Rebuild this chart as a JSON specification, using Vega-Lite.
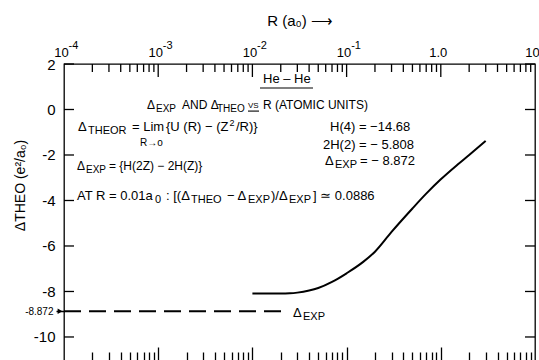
{
  "$schema": "https://vega.github.io/schema/vega-lite/v6.json",
  "width": 471,
  "height": 298,
  "autosize": "none",
  "padding": {"left": 64, "top": 64, "right": 4, "bottom": 0},
  "background": "white",
  "config": {
    "view": {"stroke": "black", "strokeWidth": 1.3},
    "axis": {
      "domain": false,
      "grid": false,
      "labelColor": "black",
      "titleColor": "black",
      "labelFont": "Liberation Sans",
      "titleFont": "Liberation Sans",
      "titleFontWeight": "normal",
      "labelFlush": false
    },
    "text": {"font": "Liberation Sans", "color": "black"}
  },
  "datasets": {
    "theo": [
      {"R": 0.01, "v": -8.09},
      {"R": 0.015, "v": -8.09},
      {"R": 0.02, "v": -8.09},
      {"R": 0.025, "v": -8.08},
      {"R": 0.03, "v": -8.05},
      {"R": 0.04, "v": -7.96},
      {"R": 0.05, "v": -7.85},
      {"R": 0.07, "v": -7.58},
      {"R": 0.1, "v": -7.2},
      {"R": 0.15, "v": -6.7},
      {"R": 0.2, "v": -6.25},
      {"R": 0.3, "v": -5.38},
      {"R": 0.5, "v": -4.35},
      {"R": 0.7, "v": -3.7},
      {"R": 1.0, "v": -3.07},
      {"R": 1.5, "v": -2.43},
      {"R": 2.0, "v": -2.0},
      {"R": 3.0, "v": -1.38}
    ],
    "exp": [
      {"R": 0.0001, "v": -8.872},
      {"R": 0.0239, "v": -8.872}
    ],
    "xticks": [
      {"R": 0.001, "g": "major"}, {"R": 0.01, "g": "major"}, {"R": 0.1, "g": "major"}, {"R": 1, "g": "major"},
      {"R": 0.0002, "g": "minor"}, {"R": 0.0003, "g": "minor"}, {"R": 0.0004, "g": "minor"}, {"R": 0.0005, "g": "minor"},
      {"R": 0.0006, "g": "minor"}, {"R": 0.0007, "g": "minor"}, {"R": 0.0008, "g": "minor"}, {"R": 0.0009, "g": "minor"},
      {"R": 0.002, "g": "minor"}, {"R": 0.003, "g": "minor"}, {"R": 0.004, "g": "minor"}, {"R": 0.005, "g": "minor"},
      {"R": 0.006, "g": "minor"}, {"R": 0.007, "g": "minor"}, {"R": 0.008, "g": "minor"}, {"R": 0.009, "g": "minor"},
      {"R": 0.02, "g": "minor"}, {"R": 0.03, "g": "minor"}, {"R": 0.04, "g": "minor"}, {"R": 0.05, "g": "minor"},
      {"R": 0.06, "g": "minor"}, {"R": 0.07, "g": "minor"}, {"R": 0.08, "g": "minor"}, {"R": 0.09, "g": "minor"},
      {"R": 0.2, "g": "minor"}, {"R": 0.3, "g": "minor"}, {"R": 0.4, "g": "minor"}, {"R": 0.5, "g": "minor"},
      {"R": 0.6, "g": "minor"}, {"R": 0.7, "g": "minor"}, {"R": 0.8, "g": "minor"}, {"R": 0.9, "g": "minor"},
      {"R": 2, "g": "minor"}, {"R": 3, "g": "minor"}, {"R": 4, "g": "minor"}, {"R": 5, "g": "minor"},
      {"R": 6, "g": "minor"}, {"R": 7, "g": "minor"}, {"R": 8, "g": "minor"}, {"R": 9, "g": "minor"}
    ],
    "yticks": [
      {"v": 2}, {"v": 0}, {"v": -2}, {"v": -4}, {"v": -6}, {"v": -8}, {"v": -10}
    ],
    "notes": [
      {"t": "He – He", "R": 0.01296, "v": 1.17, "k": "m"},
      {"t": "Δ", "R": 0.00076, "v": 0.0, "k": "a"},
      {"t": "EXP", "R": 0.0009475, "v": 0.0, "k": "b"},
      {"t": "AND Δ", "R": 0.001789, "v": 0.0, "k": "a"},
      {"t": "THEO", "R": 0.004208, "v": 0.0, "k": "b"},
      {"t": "VS", "R": 0.00898, "v": 0.0, "k": "v"},
      {"t": "R (ATOMIC UNITS)", "R": 0.01296, "v": 0.0, "k": "a"},
      {"t": "Δ", "R": 0.0001408, "v": -0.95, "k": "m"},
      {"t": "THEOR", "R": 0.0001798, "v": -0.95, "k": "s"},
      {"t": "= Lim", "R": 0.000527, "v": -0.95, "k": "m"},
      {"t": "{U (R) − (Z", "R": 0.00121, "v": -0.95, "k": "m"},
      {"t": "2", "R": 0.005713, "v": -0.95, "k": "p"},
      {"t": "/R)}", "R": 0.006695, "v": -0.95, "k": "m"},
      {"t": "R→o", "R": 0.000641, "v": -1.47, "k": "b"},
      {"t": "H(4) = −14.68", "R": 0.06666, "v": -0.95, "k": "m"},
      {"t": "2H(2) = − 5.808", "R": 0.05617, "v": -1.74, "k": "m"},
      {"t": "Δ", "R": 0.05897, "v": -2.44, "k": "m"},
      {"t": "EXP", "R": 0.0753, "v": -2.44, "k": "s"},
      {"t": "= − 8.872", "R": 0.1388, "v": -2.44, "k": "m"},
      {"t": "Δ", "R": 0.0001374, "v": -2.65, "k": "a"},
      {"t": "EXP", "R": 0.0001712, "v": -2.65, "k": "b"},
      {"t": "= {H(2Z) − 2H(Z)}", "R": 0.0003004, "v": -2.65, "k": "a"},
      {"t": "AT R = 0.01a", "R": 0.0001374, "v": -3.98, "k": "m"},
      {"t": "0", "R": 0.0009245, "v": -3.98, "k": "s"},
      {"t": ": [(Δ", "R": 0.00121, "v": -3.98, "k": "m"},
      {"t": "THEO", "R": 0.00223, "v": -3.98, "k": "s"},
      {"t": "− Δ", "R": 0.005375, "v": -3.98, "k": "m"},
      {"t": "EXP", "R": 0.00898, "v": -3.98, "k": "s"},
      {"t": ")/Δ", "R": 0.01576, "v": -3.98, "k": "m"},
      {"t": "EXP", "R": 0.02446, "v": -3.98, "k": "s"},
      {"t": "] ≃ 0.0886", "R": 0.04398, "v": -3.98, "k": "m"},
      {"t": "Δ", "R": 0.02698, "v": -9.12, "k": "m"},
      {"t": "EXP", "R": 0.03444, "v": -9.12, "k": "s"}
    ],
    "underlines": [
      {"R1": 0.01204, "R2": 0.04398, "v": 0.945},
      {"R1": 0.00898, "R2": 0.01175, "v": -0.07}
    ]
  },
  "layer": [
    {
      "data": {"name": "underlines"},
      "mark": {"type": "rule", "color": "black", "strokeWidth": 1.1},
      "encoding": {
        "x": {
          "field": "R1", "type": "quantitative",
          "scale": {"type": "log", "domain": [0.0001, 10], "nice": false},
          "axis": {
            "orient": "bottom",
            "offset": -15,
            "values": [0.001, 0.01, 0.1, 1],
            "ticks": true,
            "tickSize": 15,
            "tickColor": "black",
            "tickWidth": 1.3,
            "labels": false,
            "title": null
          }
        },
        "x2": {"field": "R2"},
        "y": {
          "field": "v", "type": "quantitative",
          "scale": {"domain": [-11.1, 2], "nice": false, "zero": false},
          "axis": null
        }
      }
    },
    {
      "data": {"name": "theo"},
      "mark": {"type": "line", "color": "black", "strokeWidth": 2, "interpolate": "monotone"},
      "encoding": {
        "x": {
          "field": "R", "type": "quantitative",
          "scale": {"type": "log", "domain": [0.0001, 10], "nice": false},
          "axis": {
            "orient": "top",
            "values": [0.0001, 0.001, 0.01, 0.1, 1, 10],
            "ticks": false,
            "labelFontSize": 13,
            "labelBaseline": "alphabetic",
            "labelPadding": 8,
            "labelOffset": -3,
            "labelExpr": "datum.value < 0.5 ? '10' : datum.value < 5 ? '1.0' : '10'",
            "title": "R (a₀) ⟶",
            "titleFontSize": 15,
            "titleY": -44,
            "titleBaseline": "middle"
          }
        },
        "y": {
          "field": "v", "type": "quantitative",
          "scale": {"domain": [-11.1, 2], "nice": false, "zero": false},
          "axis": {
            "orient": "left",
            "values": [2, 0, -2, -4, -6, -8, -10],
            "ticks": false,
            "labelFontSize": 15,
            "labelPadding": 9,
            "labelExpr": "datum.value < 0 ? '-' + abs(datum.value) : '' + datum.value",
            "title": "ΔTHEO (e²/a₀)",
            "titleFontSize": 14,
            "titleAngle": -90,
            "titleX": -44,
            "titleY": 121,
            "titleAlign": "center",
            "titleBaseline": "middle"
          }
        }
      }
    },
    {
      "data": {"name": "notes"},
      "transform": [{"filter": "datum.k == 'm' || datum.k == 'a'"}],
      "mark": {"type": "text", "align": "left", "baseline": "alphabetic"},
      "encoding": {
        "x": {
          "field": "R", "type": "quantitative",
          "scale": {"type": "log", "domain": [0.0001, 10], "nice": false},
          "axis": {
            "orient": "bottom",
            "offset": -10,
            "values": [0.0002, 0.0003, 0.0004, 0.0005, 0.0006, 0.0007, 0.0008, 0.0009,
                       0.002, 0.003, 0.004, 0.005, 0.006, 0.007, 0.008, 0.009,
                       0.02, 0.03, 0.04, 0.05, 0.06, 0.07, 0.08, 0.09,
                       0.2, 0.3, 0.4, 0.5, 0.6, 0.7, 0.8, 0.9,
                       2, 3, 4, 5, 6, 7, 8, 9],
            "ticks": true,
            "tickSize": 10,
            "tickColor": "black",
            "tickWidth": 1.3,
            "labels": false,
            "title": null
          }
        },
        "y": {
          "field": "v", "type": "quantitative",
          "scale": {"domain": [-11.1, 2], "nice": false, "zero": false},
          "axis": {
            "orient": "left",
            "values": [-8.872],
            "ticks": true,
            "tickSize": 8,
            "tickColor": "black",
            "tickWidth": 1.5,
            "labelFontSize": 10,
            "labelPadding": 3,
            "labelExpr": "'-8.872'",
            "title": null
          }
        },
        "size": {"field": "k", "type": "ordinal", "scale": {"domain": ["m", "a"], "range": [13, 12]}, "legend": null},
        "text": {"field": "t"}
      }
    },
    {
      "data": {"name": "notes"},
      "transform": [{"filter": "datum.k == 's' || datum.k == 'b'"}],
      "mark": {"type": "text", "align": "left", "baseline": "alphabetic", "dy": 3},
      "encoding": {
        "x": {
          "field": "R", "type": "quantitative",
          "scale": {"type": "log", "domain": [0.0001, 10], "nice": false},
          "axis": null
        },
        "y": {
          "field": "v", "type": "quantitative",
          "scale": {"domain": [-11.1, 2], "nice": false, "zero": false},
          "axis": null
        },
        "size": {"field": "k", "type": "ordinal", "scale": {"domain": ["s", "b"], "range": [11, 10]}, "legend": null},
        "text": {"field": "t"}
      }
    },
    {
      "data": {"name": "exp"},
      "mark": {"type": "line", "color": "black", "strokeWidth": 2, "strokeDash": [17, 8]},
      "encoding": {
        "x": {
          "field": "R", "type": "quantitative",
          "scale": {"type": "log", "domain": [0.0001, 10], "nice": false},
          "axis": {
            "orient": "top",
            "values": [0.0001, 0.001, 0.01, 0.1],
            "ticks": false,
            "labelFontSize": 11,
            "labelBaseline": "alphabetic",
            "labelPadding": 16,
            "labelOffset": 9,
            "labelExpr": "'-' + (-round(log(datum.value) / LN10))",
            "title": null
          }
        },
        "y": {
          "field": "v", "type": "quantitative",
          "scale": {"domain": [-11.1, 2], "nice": false, "zero": false},
          "axis": null
        }
      }
    },
    {
      "data": {"name": "exp"},
      "transform": [{"filter": "datum.R < 0.001"}],
      "mark": {"type": "point", "shape": "triangle-right", "filled": true, "color": "black", "opacity": 1, "size": 30, "xOffset": -4},
      "encoding": {
        "x": {
          "field": "R", "type": "quantitative",
          "scale": {"type": "log", "domain": [0.0001, 10], "nice": false},
          "axis": null
        },
        "y": {
          "field": "v", "type": "quantitative",
          "scale": {"domain": [-11.1, 2], "nice": false, "zero": false},
          "axis": null
        }
      }
    },
    {
      "data": {"name": "xticks"},
      "transform": [{"filter": "datum.g == 'major'"}],
      "mark": {"type": "tick", "orient": "vertical", "color": "black", "opacity": 1, "size": 13, "thickness": 1.3, "yOffset": 6.5},
      "encoding": {
        "x": {
          "field": "R", "type": "quantitative",
          "scale": {"type": "log", "domain": [0.0001, 10], "nice": false},
          "axis": null
        },
        "y": {
          "datum": 2, "type": "quantitative",
          "scale": {"domain": [-11.1, 2], "nice": false, "zero": false},
          "axis": null
        }
      }
    },
    {
      "data": {"name": "xticks"},
      "transform": [{"filter": "datum.g == 'minor'"}],
      "mark": {"type": "tick", "orient": "vertical", "color": "black", "opacity": 1, "size": 8, "thickness": 1.3, "yOffset": 4},
      "encoding": {
        "x": {
          "field": "R", "type": "quantitative",
          "scale": {"type": "log", "domain": [0.0001, 10], "nice": false},
          "axis": null
        },
        "y": {
          "datum": 2, "type": "quantitative",
          "scale": {"domain": [-11.1, 2], "nice": false, "zero": false},
          "axis": null
        }
      }
    },
    {
      "data": {"name": "yticks"},
      "mark": {"type": "tick", "orient": "horizontal", "color": "black", "opacity": 1, "size": 10, "thickness": 1.3, "xOffset": 5},
      "encoding": {
        "x": {
          "datum": 0.0001, "type": "quantitative",
          "scale": {"type": "log", "domain": [0.0001, 10], "nice": false},
          "axis": null
        },
        "y": {
          "field": "v", "type": "quantitative",
          "scale": {"domain": [-11.1, 2], "nice": false, "zero": false},
          "axis": null
        }
      }
    },
    {
      "data": {"name": "yticks"},
      "mark": {"type": "tick", "orient": "horizontal", "color": "black", "opacity": 1, "size": 10, "thickness": 1.3, "xOffset": -5},
      "encoding": {
        "x": {
          "datum": 10, "type": "quantitative",
          "scale": {"type": "log", "domain": [0.0001, 10], "nice": false},
          "axis": null
        },
        "y": {
          "field": "v", "type": "quantitative",
          "scale": {"domain": [-11.1, 2], "nice": false, "zero": false},
          "axis": null
        }
      }
    },
    {
      "data": {"name": "notes"},
      "transform": [{"filter": "datum.k == 'p'"}],
      "mark": {"type": "text", "align": "left", "baseline": "alphabetic", "fontSize": 9, "dy": -5},
      "encoding": {
        "x": {
          "field": "R", "type": "quantitative",
          "scale": {"type": "log", "domain": [0.0001, 10], "nice": false},
          "axis": null
        },
        "y": {
          "field": "v", "type": "quantitative",
          "scale": {"domain": [-11.1, 2], "nice": false, "zero": false},
          "axis": null
        },
        "text": {"field": "t"}
      }
    },
    {
      "data": {"name": "notes"},
      "transform": [{"filter": "datum.k == 'v'"}],
      "mark": {"type": "text", "align": "left", "baseline": "alphabetic", "fontSize": 8, "dy": -1},
      "encoding": {
        "x": {
          "field": "R", "type": "quantitative",
          "scale": {"type": "log", "domain": [0.0001, 10], "nice": false},
          "axis": null
        },
        "y": {
          "field": "v", "type": "quantitative",
          "scale": {"domain": [-11.1, 2], "nice": false, "zero": false},
          "axis": null
        },
        "text": {"field": "t"}
      }
    }
  ],
  "resolve": {
    "axis": {"x": "independent", "y": "independent"},
    "scale": {"size": "independent"}
  }
}
